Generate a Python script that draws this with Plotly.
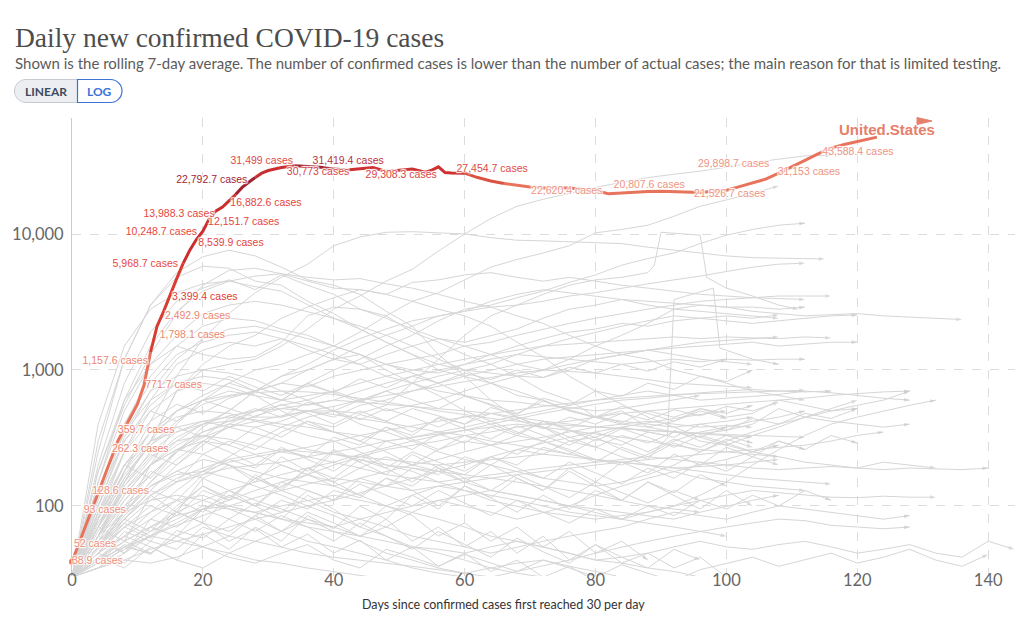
import plotly.graph_objects as go

# ------------------------------------------------------------------ data
# United States: days since 30 cases/day, rolling 7-day average
us_days = [0, 1, 2, 3, 4, 5, 6, 7, 8, 9, 10, 11, 12, 13, 14, 15, 16, 17, 18, 19,
           20, 21, 22, 23, 24, 25, 26, 27, 28, 29, 30, 32, 34, 36, 38, 40, 42, 44,
           46, 48, 50, 52, 54, 55, 56, 57, 58, 60, 62, 64, 66, 68, 70, 72, 74, 76,
           78, 80, 82, 84, 86, 88, 90, 92, 94, 96, 98, 100, 102, 104, 106, 108,
           110, 112, 114, 116, 118, 120, 122, 123]
us_cases = [38.9, 52, 70, 93, 128.6, 170, 230, 300, 370, 460, 560, 771.7, 1350,
            2100, 2700, 3600, 4700, 6100, 7600, 9100, 10500, 13000, 14800, 15800,
            17500, 19500, 22000, 24000, 26000, 28000, 29300, 30800, 31800, 31400,
            31000, 30000, 29600, 30200, 30800, 28800, 29500, 30000, 28500, 29500,
            31200, 28300, 28100, 28000, 26000, 24500, 23500, 22800, 22200, 21800,
            21900, 21800, 21300, 20800, 19800, 20100, 20400, 20500, 20600, 20500,
            20200, 20200, 20600, 21000, 22300, 23700, 25300, 28000, 31000, 34800,
            38800, 42800, 45500, 47800, 50500, 51600]

# value labels along the US line
label_days = [0, 0.3, 1.8, 3.1, 6.1, 7.0, 11.2, 11.6, 13.4, 14.2, 15.3, 16.2, 19.3,
              19.1, 20.8, 21.8, 24.2, 26.8, 29.0, 42.2, 37.6, 50.3, 64.2, 75.6,
              88.2, 100.5, 101.1, 112.6, 120.1]
label_values = [38.9, 52, 93, 128.6, 262.3, 359.7, 771.7, 1157.6, 1798.1, 2492.9,
                3399.4, 5968.7, 8539.9, 10248.7, 12151.7, 13988.3, 16882.6, 22792.7,
                31499, 31419.4, 30773, 29308.3, 27454.7, 22620.4, 20807.6, 21526.7,
                29898.7, 31153, 43588.4]

# other countries (grey), values every 4 days from day 0 unless days given
italy = [30, 180, 550, 1300, 2600, 4200, 5400, 5600, 5100, 4500, 4000, 3900, 3600,
         3200, 2800, 2500, 2100, 1600, 1250, 900, 700, 560, 450, 380, 320, 280, 250,
         230, 210, 200, 190, 210, 200, 190]
spain = [30, 300, 1200, 3000, 5200, 6800, 7600, 6900, 5700, 4600, 4200, 3600, 2700,
         2100, 1300, 900, 600, 450, 380, 300, 320, 260, 220, 360, 300, 280, 330, 380,
         450, 520, 600]
germany = [30, 250, 1200, 3000, 4800, 5800, 5600, 4500, 4200, 3200, 2600, 2000, 1600,
           1300, 1000, 900, 800, 650, 600, 500, 450, 400, 380, 350, 340, 360, 400, 520,
           450, 420, 400, 380, 400]
france = [30, 200, 800, 1900, 3200, 4000, 4600, 3900, 5000, 4200, 3600, 2800, 2500,
          1900, 1600, 1300, 1100, 900, 700, 600, 450, 500, 380, 420, 520, 450, 480,
          600, 550, 500, 520]
uk = [30, 180, 600, 1500, 2700, 3800, 4500, 4900, 5100, 4800, 4600, 4700, 4300, 4000,
      3600, 3200, 2900, 2500, 2200, 1800, 1500, 1300, 1200, 1000, 900, 800, 700, 650,
      600]
turkey = [30, 400, 1500, 2800, 3700, 4300, 4500, 4100, 3800, 3000, 2400, 2000, 1600,
          1300, 1100, 1000, 950, 900, 880, 1000, 1200, 1300, 1400, 1300, 1200, 1150,
          1100]
iran = [30, 150, 600, 1100, 1500, 1300, 1200, 1250, 1600, 2500, 2900, 2800, 2400, 2000,
        1700, 1500, 1300, 1100, 1000, 1200, 1500, 1800, 2200, 2800, 3000, 2900, 2700,
        2600, 2500, 2550, 2600, 2500, 2450, 2400, 2350]
brazil = [30, 60, 150, 300, 700, 1000, 1100, 1200, 1500, 2000, 2800, 3500, 4500, 5500,
          7500, 10000, 13000, 16000, 18000, 20000, 22000, 24000, 26000, 27500, 29000,
          31000, 33500, 35500, 37500, 38000]
india = [30, 50, 90, 200, 400, 600, 800, 1000, 1100, 1300, 1500, 1900, 2500, 3200, 3700,
         4600, 5700, 6500, 7250, 8200, 10200, 10800, 11600, 13500, 16000, 17800, 20000,
         22500]
riser = [30, 45, 80, 130, 200, 280, 400, 500, 600, 800, 1000, 1200, 1500, 1800, 2300,
         2800, 3000, 3400, 3800, 4400, 5000, 5900, 6600, 7250, 8500, 9800, 10800, 11600,
         12000]
mexico = [30, 50, 90, 150, 250, 380, 500, 700, 900, 1100, 1400, 1700, 2000, 2300, 2500,
          2700, 2900, 3000, 3200, 3500, 3700, 4000, 4300, 4600, 4900, 5300, 5700, 6000,
          6100]
peru = [30, 60, 150, 300, 700, 1100, 1500, 1800, 2400, 2900, 3400, 3900, 3600, 4400,
        4600, 5000, 5200, 4800, 4500, 4800, 4500, 4200, 4000, 3800, 3600, 3500, 3400,
        3350, 3300]
russia_days = [0, 4, 8, 12, 16, 20, 24, 28, 32, 36, 40, 44, 48, 52, 56, 60, 64, 68, 72,
               76, 80, 84, 88, 92, 96, 100, 104, 108, 112, 115]
russia_cases = [30, 70, 180, 420, 900, 1700, 2600, 3700, 4800, 6000, 8200, 9500, 10300,
                10400, 10200, 10000, 9400, 9000, 8900, 8800, 8700, 8500, 8000, 7600,
                7200, 6900, 6700, 6650, 6600, 6550]
chile_days = [0, 4, 8, 12, 16, 20, 24, 28, 32, 36, 40, 44, 48, 52, 56, 60, 64, 68, 72,
              76, 80, 84, 88, 89, 90, 96, 97, 100, 104, 108, 111]
chile_cases = [30, 80, 200, 300, 350, 400, 420, 450, 450, 500, 500, 480, 550, 800, 1200,
               1800, 2500, 3000, 3600, 4200, 4600, 4800, 5200, 5900, 10300, 9800, 4800,
               4000, 3500, 3000, 2800]
jump_days = [0, 4, 8, 12, 16, 20, 24, 28, 32, 36, 40, 44, 48, 52, 56, 60, 64, 68, 72,
             76, 80, 84, 88, 91, 92, 98, 99, 104, 108]
jump_cases = [30, 45, 60, 80, 70, 95, 120, 100, 140, 170, 150, 190, 230, 200, 260, 300,
              280, 330, 300, 360, 320, 380, 350, 330, 3300, 4000, 1450, 1200, 1100]

g01 = [30, 120, 400, 900, 1500, 2100, 2400, 2300, 2000, 1800, 1500, 1300, 1000, 800,
       650, 500, 420, 350, 300, 260, 220, 200, 240, 300, 350, 380, 420, 450, 500]
g02 = [30, 90, 250, 600, 1100, 1400, 1600, 1500, 1700, 1400, 1200, 1300, 1100, 1000,
       950, 1100, 1300, 1500, 1700, 1900, 2000, 2200, 2100, 2300, 2400, 2500, 2400, 2550]
g03 = [30, 70, 160, 300, 500, 650, 800, 700, 900, 1000, 1200, 1100, 1300, 1500, 1700,
       1600, 1800, 2000, 2400, 2800, 3000, 3300, 3200, 3100, 3000, 2900, 2900, 2800, 2900]
g04 = [30, 60, 130, 200, 300, 400, 500, 700, 800, 1000, 1200, 1500, 1800, 2100, 2500,
       2700, 3200, 3600, 3900, 3700, 3500, 3300, 3000, 2800, 2700, 2600, 2500, 2400]
g05 = [30, 80, 200, 350, 500, 600, 650, 700, 800, 750, 900, 1000, 1100, 1200, 1300,
       1500, 1600, 1800, 2000, 2200, 2400, 2600, 2800, 3000, 3200, 3300, 3400, 3500,
       3500, 3500]
g06 = [30, 50, 100, 170, 250, 350, 420, 500, 550, 600, 700, 800, 900, 1000, 1100, 1200,
       1300, 1400, 1500, 1550, 1600, 1650, 1700, 1750, 1700, 1750, 1720, 1700, 1750, 1720]
g07 = [30, 40, 60, 90, 130, 180, 230, 300, 380, 450, 500, 600, 700, 800, 900, 1000,
       1100, 1300, 1500, 1700, 1900, 2100, 2300, 2500, 2400, 2300, 2200, 2300, 2400,
       2500, 2540]
g08 = [30, 100, 300, 550, 800, 900, 850, 700, 600, 650, 700, 600, 500, 550, 600, 700,
       800, 900, 1000, 1100, 1200, 1300, 1400, 1500, 1600, 1650, 1700, 1750]
g09 = [30, 60, 120, 200, 280, 350, 400, 380, 420, 500, 450, 550, 600, 700, 800, 900,
       1000, 1100, 1200, 1250, 1300, 1350, 1400, 1450, 1500, 1550, 1600, 1500, 1550,
       1600, 1600]
g10 = [30, 70, 180, 350, 500, 600, 700, 650, 600, 550, 600, 700, 800, 900, 1000, 1100,
       1200, 1300, 1250, 1200, 1150, 1100, 1150, 1200, 1150, 1200, 1180, 1200, 1200]
g11 = [30, 110, 350, 700, 900, 1000, 950, 850, 700, 600, 500, 400, 350, 300, 250, 220,
       200, 180, 160, 150, 140, 150, 170, 200, 250, 300, 350, 400, 450, 500, 550, 600, 700]
g12 = [30, 80, 250, 500, 700, 800, 750, 650, 500, 400, 350, 300, 250, 200, 180, 150,
       130, 120, 110, 100, 90, 80, 90, 100, 120, 150, 200, 260, 330, 400, 450, 500, 550,
       600]
g13 = [30, 60, 140, 250, 350, 420, 450, 430, 400, 380, 350, 330, 300, 320, 350, 380,
       420, 460, 500, 550, 600, 650, 700, 650, 600, 620, 640, 660, 700, 680, 650, 620, 600]
g14 = [30, 90, 200, 350, 450, 500, 480, 420, 380, 330, 300, 250, 200, 180, 150, 130,
       110, 100, 90, 85, 80, 85, 90, 100, 110, 120, 130, 125, 120, 116, 115, 118, 116, 116]
g15 = [30, 50, 80, 120, 160, 190, 220, 240, 260, 250, 240, 230, 220, 210, 200, 210, 220,
       230, 240, 230, 220, 210, 200, 190, 195, 200, 190, 185, 190, 195, 190, 185, 190,
       188, 185, 190]
g16 = [30, 45, 70, 90, 110, 120, 100, 90, 80, 70, 65, 60, 55, 50, 48, 45, 50, 55, 50,
       45, 40, 42, 45, 50, 55, 50, 48, 52, 55, 50, 45, 48, 52, 45, 42, 55, 48]
g17 = [30, 70, 130, 200, 260, 300, 280, 240, 200, 170, 140, 120, 100, 90, 80, 70, 60,
       55, 50, 45, 40, 38, 35, 33, 30, 28, 26]
g18 = [30, 40, 55, 70, 90, 110, 130, 150, 170, 190, 210, 240, 270, 300, 330, 360, 400,
       440, 480, 520, 560, 600, 620, 650, 680, 700, 720, 700, 690, 700]
g19 = [30, 35, 45, 60, 75, 95, 110, 130, 150, 170, 200, 230, 260, 280, 300, 330, 350,
       380, 400, 420, 450, 480, 500, 520, 540, 560, 580, 600, 620, 650, 670, 690, 700]
g20 = [30, 55, 90, 140, 180, 220, 200, 180, 160, 150, 140, 160, 180, 200, 220, 250, 280,
       300, 320, 350, 380, 400, 420, 400, 380, 390, 380]
g21 = [30, 40, 50, 65, 80, 100, 95, 90, 100, 110, 120, 110, 100, 120, 140, 130, 120,
       110, 100, 90, 85, 80, 75, 70, 65, 60]
g22 = [30, 60, 100, 140, 170, 180, 160, 140, 120, 100, 85, 70, 60, 50, 45, 40, 35, 32,
       30, 28, 26, 24]
g23 = [30, 50, 80, 120, 150, 170, 190, 200, 210, 230, 250, 270, 300, 320, 340, 360, 380,
       400, 380, 360, 340, 320, 300, 280, 260, 250, 240, 230]
g24 = [30, 38, 48, 60, 72, 85, 100, 115, 130, 145, 160, 150, 140, 130, 140, 150, 160,
       170, 180, 190, 200, 210, 220, 230, 240, 250, 260, 270, 280, 300, 330, 350]
g25 = [30, 45, 60, 50, 40, 35, 45, 55, 65, 80, 70, 60, 70, 90, 110, 100, 90, 80, 90,
       100, 120, 140, 160, 180, 200, 220, 250, 280]
g26 = [30, 80, 180, 300, 380, 420, 380, 340, 300, 260, 240, 220, 200, 190, 180, 170,
       160, 150, 140, 130, 120, 110, 100, 95, 90]
g27 = [30, 50, 90, 150, 220, 300, 380, 460, 520, 560, 600, 580, 560, 540, 520, 500, 480,
       450, 420, 400, 380, 370, 360, 350, 340, 330, 320]
g28 = [30, 35, 40, 38, 42, 50, 60, 55, 50, 45, 42, 40, 38, 36, 34, 32, 35, 38, 40, 36,
       33, 30]
g29 = [30, 42, 55, 70, 85, 95, 100, 90, 80, 75, 70, 80, 90, 100, 110, 120, 130, 120,
       110, 100, 95, 90, 85, 80, 90, 100, 110, 120]
g30 = [30, 65, 130, 220, 320, 400, 460, 500, 520, 500, 470, 440, 410, 380, 350, 330,
       300, 280, 260, 240, 220, 210, 200, 190, 180, 170, 160, 155, 150, 145]
g31 = [30, 55, 110, 170, 250, 320, 380, 420, 460, 500, 540, 600, 650, 700, 760, 820,
       880, 950, 1000, 980, 950, 900, 850, 800, 780, 760, 740]
g32 = [30, 35, 40, 48, 55, 62, 70, 80, 90, 100, 110, 125, 140, 160, 180, 200, 230, 260,
       290, 320, 350, 380, 410, 440, 470, 500]
g33 = [30, 70, 140, 230, 300, 330, 310, 280, 250, 230, 210, 190, 170, 160, 150, 160,
       170, 180, 190, 200, 210, 220, 230, 220, 210, 200, 210, 220]
g34 = [30, 45, 75, 110, 150, 180, 210, 230, 250, 270, 300, 330, 360, 390, 420, 450, 480,
       510, 540, 570, 600, 620, 640, 660, 670, 680, 690, 700, 710]
g35 = [30, 40, 50, 60, 55, 50, 45, 40, 38, 35, 33, 31, 29, 27]
g36 = [30, 60, 90, 110, 120, 110, 95, 80, 65, 55, 50, 45, 40, 35, 32, 30, 28]
g37 = [30, 80, 160, 280, 420, 560, 640, 680, 700, 690, 660, 620, 580, 540, 500, 470,
       440, 420, 400, 390, 380, 370, 360, 350, 340, 335, 330, 325, 320]
g38 = [30, 100, 320, 700, 1200, 1700, 2000, 2100, 1900, 1700, 1500, 1300, 1100, 950,
       800, 650, 550, 450, 380, 320, 270, 230, 200, 180, 160, 150, 140, 135, 130]
g39 = [30, 150, 500, 1100, 1800, 2600, 3000, 3200, 3000, 2700, 2400, 2100, 1800, 1500,
       1200, 1000, 800, 700, 600, 500, 450, 420, 400, 380, 400, 420, 450]
g40 = [30, 120, 400, 800, 1300, 1600, 1800, 1900, 1700, 1500, 1300, 1100, 900, 800,
       700, 650, 600, 580, 550, 530, 500, 520, 560, 600, 650]
g41 = [30, 45, 38, 55, 48, 70, 60, 85, 65, 90, 75, 60, 80, 55, 70, 50, 65, 45, 60, 40,
       52, 38, 45, 35, 42, 30]
g42 = [30, 60, 45, 80, 110, 90, 130, 100, 80, 120, 95, 70, 100, 85, 60, 75, 55, 70, 50,
       65, 45, 55, 40]
g43 = [30, 50, 75, 60, 95, 140, 110, 170, 130, 190, 150, 120, 160, 130, 100, 140, 115,
       90, 120, 95, 130, 110, 150, 125, 170, 140]
g44 = [30, 38, 52, 44, 66, 58, 80, 105, 90, 130, 110, 160, 140, 190, 170, 230, 200, 260,
       240, 300, 270, 330, 290, 350, 320, 380]
g45 = [30, 70, 55, 120, 90, 160, 200, 150, 230, 180, 260, 210, 170, 240, 190, 150, 200,
       160, 130, 180, 140, 110, 150, 120, 95, 130, 100]
g46 = [30, 42, 35, 50, 40, 62, 48, 70, 55, 85, 68, 100, 80, 120, 95, 140, 115, 160, 130,
       190, 150, 210, 175, 240, 200, 270, 230, 300, 260, 330, 290]
g47 = [30, 55, 80, 65, 100, 140, 115, 160, 200, 170, 250, 210, 300, 260, 340, 290, 380,
       330, 420, 370, 460, 410, 500, 450, 520, 480, 550]
g48 = [30, 48, 70, 58, 90, 75, 55, 68, 50, 62, 45, 56, 40, 50, 36, 45, 33, 40, 30, 36, 28]
g49 = [30, 60, 120, 200, 260, 240, 200, 160, 130, 110, 90, 80, 70, 60, 55, 50, 45, 50,
       55, 60, 65, 70, 80, 90, 85, 80, 90, 100, 95, 90, 85, 80, 85]
g50 = [30, 50, 90, 140, 180, 160, 130, 110, 95, 80, 65, 55, 45, 40, 35, 32, 30, 33, 36,
       40, 45, 50, 55, 60, 65, 70, 75, 80, 78, 72, 70, 68, 70]
g51 = [30, 40, 55, 45, 60, 50, 42, 38, 45, 52, 40, 35, 48, 42, 36, 44, 38, 33, 40, 35,
       30, 37, 32, 28, 34, 38, 42, 36, 40, 45, 38, 42, 48, 40, 36, 44]
g52 = [30, 90, 200, 160, 260, 330, 280, 380, 320, 420, 350, 300, 380, 310, 260, 330,
       280, 240, 300, 250, 210, 270, 230, 290, 250, 310, 270]
g53 = [30, 60, 110, 180, 150, 240, 300, 260, 350, 420, 380, 470, 420, 520, 460, 400,
       480, 430, 370, 450, 400, 480, 430, 510, 460, 540, 500, 580]
g54 = [30, 130, 350, 600, 800, 700, 900, 750, 650, 800, 680, 580, 700, 600, 520, 640,
       560, 480, 590, 510, 450, 540, 480, 420, 500, 440]
g55 = [30, 50, 85, 130, 110, 170, 220, 190, 260, 230, 320, 280, 380, 330, 450, 400, 530,
       470, 620, 550, 700, 640, 800, 720, 900, 820, 1000]
g56 = [30, 75, 150, 240, 200, 300, 250, 200, 270, 220, 180, 240, 190, 150, 200, 160,
       130, 170, 140, 115, 150, 125, 105, 130, 110]
g57 = [30, 100, 250, 420, 560, 480, 620, 700, 600, 780, 680, 860, 740, 900, 800, 950,
       850, 1000, 880, 1050, 950, 1100, 980, 1150, 1050, 1200]
g58 = [30, 45, 70, 100, 85, 130, 110, 160, 135, 190, 160, 220, 190, 250, 210, 180, 230,
       190, 160, 210, 175, 145, 190, 160, 210, 180, 230, 200]
g59 = [30, 40, 65, 55, 90, 75, 120, 100, 150, 130, 110, 145, 120, 100, 130, 105, 85,
       110, 90, 75, 95, 80, 100, 85, 110, 95, 120, 100, 130, 110]
g60 = [30, 85, 170, 280, 380, 320, 440, 520, 450, 580, 500, 430, 520, 450, 380, 460,
       400, 340, 420, 360, 300, 370, 320, 270, 330, 290, 250, 300, 260]
g61 = [30, 35, 50, 45, 60, 75, 65, 85, 110, 95, 130, 115, 160, 140, 190, 170, 230, 200,
       270, 240, 310, 280, 350, 320, 400, 360, 440, 400, 480, 440, 520]
g62 = [30, 120, 300, 500, 420, 600, 520, 450, 560, 480, 400, 500, 420, 350, 440, 370,
       310, 390, 330, 280, 350, 300, 250, 310, 270, 330, 290]
g63 = [30, 55, 45, 70, 60, 95, 80, 65, 85, 70, 55, 75, 60, 48, 65, 52, 42, 58, 46, 38,
       52, 42, 35, 48, 40]

x_ticks = [0, 20, 40, 60, 80, 100, 120, 140]
y_ticks = [100, 1000, 10000]
y_ticktext = ["100", "1,000", "10,000"]

# ------------------------------------------------------------------ styles
GRID_STEP = 4
GREY = "#d6d6d6"
label_positions = ["middle right"] * 7 + ["middle left", "middle right", "middle right",
                   "middle right", "middle left", "middle right", "middle left",
                   "middle right", "middle left", "middle right", "top left",
                   "top center", "top center", "bottom center", "bottom center",
                   "top center", "bottom center", "top center", "bottom center",
                   "top center", "bottom center", "bottom center"]
label_colors = (["#ee8f7a"] * 4 + ["#ec8670"] * 6 +
                ["#e03c32", "#e5493f", "#e5463d", "#e5463d", "#e5463d", "#e5463d",
                 "#e5463d", "#a62535", "#e14a45", "#b8303a", "#d64545", "#d94545",
                 "#dd4a42"] + ["#ee937f"] * 6)
us_breaks = [0, 12, 17, 25, 28, 34, 42, 60, 66, 123]
us_colors = ["#e8735c", "#d83c32", "#cc2e2e", "#a21f2e", "#c92f30", "#a52130",
             "#cd3131", "#dc5242", "#e8735c"]
HALO = ("0 0 1px #fff, 0 0 2px #fff, 1px 1px 1px #fff, -1px -1px 1px #fff, "
        "1px -1px 1px #fff, -1px 1px 1px #fff")

# ------------------------------------------------------------------ geometry
# page body has an 8px margin; positions below are in screen pixels
OFF = 8
FIG_W, FIG_H = 1024 - OFF, 629 - OFF
L, R, T, B = 72, 1015, 118, 576   # plot area, screen px


def px(x):
    return (x - L) / (R - L)


def py(y):
    return (B - y) / (B - T)


fig = go.Figure()

grid_series = [italy, spain, germany, france, uk, turkey, iran, brazil, india, riser,
               mexico, peru, g01, g02, g03, g04, g05, g06, g07, g08, g09, g10, g11,
               g12, g13, g14, g15, g16, g17, g18, g19, g20, g21, g22, g23, g24, g25,
               g26, g27, g28, g29, g30, g31, g32, g33, g34, g35, g36, g37, g38, g39,
               g40, g41, g42, g43, g44, g45, g46, g47, g48, g49, g50, g51, g52, g53,
               g54, g55, g56, g57, g58, g59, g60, g61, g62, g63]
explicit_series = [(russia_days, russia_cases), (chile_days, chile_cases),
                   (jump_days, jump_cases)]
all_series = [([GRID_STEP * i for i in range(len(v))], v) for v in grid_series]
all_series += explicit_series

for xs, ys in all_series:
    fig.add_trace(go.Scatter(
        x=xs, y=ys, mode="lines+markers",
        line=dict(color=GREY, width=1),
        marker=dict(symbol="arrow", angleref="previous", color="#c9c9c9",
                    size=[0] * (len(xs) - 1) + [6], line=dict(width=0)),
        hoverinfo="skip"))

# US line in coloured segments
for i in range(len(us_breaks) - 1):
    a, b = us_breaks[i], us_breaks[i + 1]
    xs = [d for d in us_days if a <= d <= b]
    ys = [v for d, v in zip(us_days, us_cases) if a <= d <= b]
    fig.add_trace(go.Scatter(x=xs, y=ys, mode="lines",
                             line=dict(color=us_colors[i], width=3),
                             hoverinfo="skip"))
fig.add_trace(go.Scatter(x=us_days[:1], y=us_cases[:1], mode="markers",
                         marker=dict(color="#e8735c", size=6), hoverinfo="skip",
                         cliponaxis=False))

fig.add_trace(go.Scatter(
    x=label_days, y=label_values, mode="text",
    text=[f"{v:,} cases" for v in label_values],
    textposition=label_positions,
    textfont=dict(family="Liberation Sans, Arial", size=10.5, color=label_colors,
                  shadow=HALO),
    hoverinfo="skip", cliponaxis=False))

axis_font = dict(family="Lato", size=16.5, color="#666666")
fig.update_xaxes(range=[0, 144.1], tickvals=x_ticks, showgrid=True,
                 gridcolor="#dcdcdc", griddash="dash", gridwidth=1, zeroline=False,
                 showline=False, ticks="", tickfont=axis_font, ticklabelstandoff=-8,
                 automargin=False)
fig.update_yaxes(type="log", range=[1.485, 4.853], tickvals=y_ticks,
                 ticktext=y_ticktext, showgrid=True, gridcolor="#dcdcdc",
                 griddash="dash", gridwidth=1, zeroline=False, showline=True,
                 linecolor="#cccccc", linewidth=1, ticks="", tickfont=axis_font,
                 ticklabelstandoff=4, automargin=False)


def rounded(x0, x1, y0, y1, r, left=True, right=True):
    k = 0.5523 * r
    parts = []
    if left:
        parts.append(f"M {px(x0 + r)},{py(y0)}")
    else:
        parts.append(f"M {px(x0)},{py(y0)}")
    if right:
        parts.append(f"L {px(x1 - r)},{py(y0)}")
        parts.append(f"C {px(x1 - r + k)},{py(y0)} {px(x1)},{py(y0 + r - k)} {px(x1)},{py(y0 + r)}")
        parts.append(f"C {px(x1)},{py(y1 - r + k)} {px(x1 - r + k)},{py(y1)} {px(x1 - r)},{py(y1)}")
    else:
        parts.append(f"L {px(x1)},{py(y0)}")
        parts.append(f"L {px(x1)},{py(y1)}")
    if left:
        parts.append(f"L {px(x0 + r)},{py(y1)}")
        parts.append(f"C {px(x0 + r - k)},{py(y1)} {px(x0)},{py(y1 - r + k)} {px(x0)},{py(y1 - r)}")
        parts.append(f"C {px(x0)},{py(y0 + r - k)} {px(x0 + r - k)},{py(y0)} {px(x0 + r)},{py(y0)}")
    else:
        parts.append(f"L {px(x0)},{py(y1)}")
    parts.append("Z")
    return " ".join(parts)


shapes = [
    dict(type="path", xref="paper", yref="paper",
         path=rounded(14.5, 77.5, 79.5, 102.5, 11.5, left=True, right=False),
         fillcolor="#eceef1", line=dict(color="#c6cbd2", width=1)),
    dict(type="path", xref="paper", yref="paper",
         path=rounded(77.5, 122, 79.5, 102.5, 11.5, left=False, right=True),
         fillcolor="#ffffff", line=dict(color="#3b73d6", width=1.2)),
    dict(type="path", xref="paper", yref="paper",
         path=f"M {px(917)},{py(117.5)} L {px(932)},{py(121)} L {px(917)},{py(124.5)} Z",
         fillcolor="#e5806b", line=dict(color="#e5806b", width=1)),
]

annotations = [
    dict(text="Daily new confirmed COVID-19 cases", x=px(13), y=py(37),
         xanchor="left", yanchor="middle",
         font=dict(family="Liberation Serif", size=27.5, color="#4d4d4d")),
    dict(text="Shown is the rolling 7-day average. The number of confirmed cases is lower "
              "than the number of actual cases; the main reason for that is limited testing.",
         x=px(13), y=py(63), xanchor="left", yanchor="middle",
         font=dict(family="Lato", size=15, color="#5b5b5b")),
    dict(text="<b>LINEAR</b>", x=px(46), y=py(91), xanchor="center", yanchor="middle",
         font=dict(family="Lato", size=12, color="#3d4b5e")),
    dict(text="<b>LOG</b>", x=px(99), y=py(91), xanchor="center", yanchor="middle",
         font=dict(family="Lato", size=12, color="#3b73d6")),
    dict(text="<b>United.States</b>", x=px(837), y=py(130), xanchor="left",
         yanchor="middle",
         font=dict(family="Liberation Sans, Arial", size=15, color="#e5806b")),
    dict(text="Days since confirmed cases first reached 30 per day", x=px(503),
         y=py(604), xanchor="center", yanchor="middle",
         font=dict(family="Lato", size=12.5, color="#333333")),
]
for a in annotations:
    a.update(xref="paper", yref="paper", showarrow=False)

fig.update_layout(width=FIG_W, height=FIG_H, autosize=False,
                  margin=dict(l=L - OFF, r=FIG_W - (R - OFF), t=T - OFF,
                              b=FIG_H - (B - OFF), pad=0),
                  paper_bgcolor="white", plot_bgcolor="white", showlegend=False,
                  shapes=shapes, annotations=annotations,
                  font=dict(family="Lato"))

fig.write_html("out.html")
